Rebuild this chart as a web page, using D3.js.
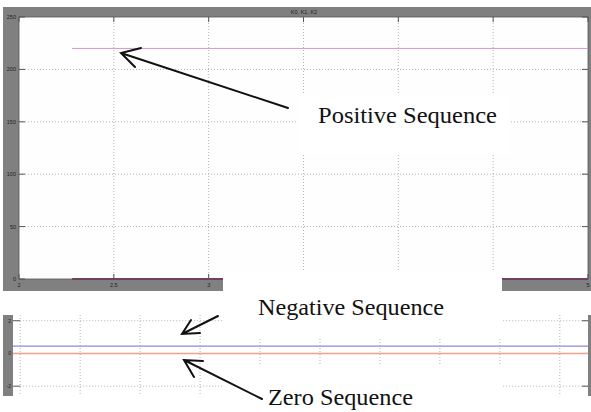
<!DOCTYPE html>
<html><head><meta charset="utf-8">
<script src="https://cdn.jsdelivr.net/npm/d3@7"></script>
<style>body{margin:0;background:#fff}svg{display:block}</style>
</head><body>
<svg id="c" width="591" height="412"></svg>
<script>
// ---- data ----
const title = "K0, K1, K2";
const topXTicks = [2, 2.5, 3, 3.5, 4, 4.5, 5];
const topXTickLabels = ["2", "2.5", "3", "", "", "", "5"];
const topYTicks = [0, 50, 100, 150, 200, 250];
const topTime = [2.28, 5];
const positiveSeq = [220, 220];
const zeroTopSeq = [0, 0];
const botXTicks = [0, 1, 2, 3, 4, 5, 6, 7, 8, 9];
const botYTicks = [-2, 0, 2];
const botTime = [-0.12, 9.47];
const negativeSeq = [0.45, 0.45];
const zeroSeq = [0, 0];
const labels = ["Positive Sequence", "Negative Sequence", "Zero Sequence"];

const svg = d3.select("#c");
const grid = "#b4b4b4";

// ---- top panel ----
const xT = d3.scaleLinear().domain([2, 5]).range([19, 588]);
const yT = d3.scaleLinear().domain([0, 250]).range([279, 17]);
const gTop = svg.append("g");
gTop.append("rect").attr("x", 3).attr("y", 7).attr("width", 588).attr("height", 284).attr("fill", "#808080");
gTop.append("rect").attr("x", 19).attr("y", 17).attr("width", 569).attr("height", 262).attr("fill", "#fefefe");
// grid
gTop.selectAll(".vg").data(topXTicks.slice(1, -1)).enter().append("line")
  .attr("x1", d => xT(d)).attr("x2", d => xT(d)).attr("y1", yT(250)).attr("y2", yT(0))
  .attr("stroke", grid).attr("stroke-dasharray", "1,2");
gTop.selectAll(".hg").data(topYTicks.slice(1, -1)).enter().append("line")
  .attr("x1", xT(2)).attr("x2", xT(5)).attr("y1", d => yT(d)).attr("y2", d => yT(d))
  .attr("stroke", grid).attr("stroke-dasharray", "1,2");
// ticks (inward)
gTop.selectAll(".xt1").data(topXTicks).enter().append("line")
  .attr("x1", d => xT(d)).attr("x2", d => xT(d)).attr("y1", yT(250)).attr("y2", yT(250) + 5)
  .attr("stroke", "#555");
gTop.selectAll(".xt2").data(topXTicks).enter().append("line")
  .attr("x1", d => xT(d)).attr("x2", d => xT(d)).attr("y1", yT(0)).attr("y2", yT(0) - 5)
  .attr("stroke", "#555");
gTop.selectAll(".yt").data(topYTicks).enter().append("line")
  .attr("x1", xT(2)).attr("x2", xT(2) + 6).attr("y1", d => yT(d)).attr("y2", d => yT(d))
  .attr("stroke", "#555");
gTop.selectAll(".yt2").data(topYTicks).enter().append("line")
  .attr("x1", xT(5)).attr("x2", xT(5) - 6).attr("y1", d => yT(d)).attr("y2", d => yT(d))
  .attr("stroke", "#555");
gTop.append("rect").attr("x", 19).attr("y", 17).attr("width", 569).attr("height", 262)
  .attr("fill", "none").attr("stroke", "#555").attr("stroke-width", 0.8);
// labels
gTop.selectAll(".yl").data(topYTicks).enter().append("text")
  .attr("x", 16).attr("y", d => yT(d) + 2).attr("text-anchor", "end")
  .attr("font-family", "Arial, Liberation Sans, sans-serif").attr("font-size", 5.5).attr("fill", "#222")
  .text(d => d);
gTop.selectAll(".xl").data(topXTicks).enter().append("text")
  .attr("x", d => xT(d)).attr("y", 287).attr("text-anchor", "middle")
  .attr("font-family", "Arial, Liberation Sans, sans-serif").attr("font-size", 5.5).attr("fill", "#222")
  .text((d, i) => topXTickLabels[i]);
gTop.append("text").attr("x", 304).attr("y", 13.5).attr("text-anchor", "middle")
  .attr("font-family", "Arial, Liberation Sans, sans-serif").attr("font-size", 5.5).attr("fill", "#222")
  .text(title);
// series
const lineT = d3.line().x((d, i) => xT(topTime[i])).y(d => yT(d));
gTop.append("path").attr("d", lineT(positiveSeq)).attr("fill", "none").attr("stroke", "#d59ad1").attr("stroke-width", 1);
gTop.append("path").attr("d", lineT(zeroTopSeq)).attr("fill", "none").attr("stroke", "#74405f").attr("stroke-width", 2);

// ---- bottom panel ----
const xB = d3.scaleLinear().domain([-0.12, 9.47]).range([13, 588]);
const yB = d3.scaleLinear().domain([-2.6, 2.35]).range([396, 315]);
const gBot = svg.append("g");
gBot.append("rect").attr("x", 3).attr("y", yB(2.35)).attr("width", 10).attr("height", yB(-2.6) - yB(2.35)).attr("fill", "#808080");
gBot.append("rect").attr("x", 588).attr("y", yB(2.35)).attr("width", 3).attr("height", yB(-2.6) - yB(2.35)).attr("fill", "#808080");
gBot.selectAll(".vg").data(botXTicks).enter().append("line")
  .attr("x1", d => xB(d)).attr("x2", d => xB(d)).attr("y1", yB(2.35)).attr("y2", yB(-2.6))
  .attr("stroke", grid).attr("stroke-dasharray", "1,2");
gBot.selectAll(".hg").data(botYTicks.filter(d => d !== 0)).enter().append("line")
  .attr("x1", xB(0)).attr("x2", 588).attr("y1", d => yB(d)).attr("y2", d => yB(d))
  .attr("stroke", grid).attr("stroke-dasharray", "1,2");
gBot.selectAll(".yt").data(botYTicks).enter().append("line")
  .attr("x1", 13).attr("x2", 20).attr("y1", d => yB(d)).attr("y2", d => yB(d)).attr("stroke", "#555");
gBot.selectAll(".yt2").data(botYTicks).enter().append("line")
  .attr("x1", 588).attr("x2", 582).attr("y1", d => yB(d)).attr("y2", d => yB(d)).attr("stroke", "#555");
gBot.selectAll(".yl").data(botYTicks).enter().append("text")
  .attr("x", 11).attr("y", d => yB(d) + 1.8).attr("text-anchor", "end")
  .attr("font-family", "Arial, Liberation Sans, sans-serif").attr("font-size", 5).attr("fill", "#222")
  .text(d => d);
const lineB = d3.line().x((d, i) => xB(botTime[i])).y(d => yB(d));
gBot.append("path").attr("d", lineB(negativeSeq)).attr("fill", "none").attr("stroke", "#8a8ae0").attr("stroke-width", 1.2);
gBot.append("path").attr("d", lineB(zeroSeq)).attr("fill", "none").attr("stroke", "#f2a08e").attr("stroke-width", 1.4);

// ---- white label boxes ----
const boxes = [[298, 95, 212, 60], [223, 272, 279, 67], [223, 364, 279, 48]];
svg.selectAll(".box").data(boxes).enter().append("rect")
  .attr("x", d => d[0]).attr("y", d => d[1]).attr("width", d => d[2]).attr("height", d => d[3]).attr("fill", "#fff");

// ---- annotation text ----
const textPos = [[318, 123], [258, 315], [268, 405]];
const textLen = [179, 186, 145];
svg.selectAll(".lab").data(labels).enter().append("text")
  .attr("x", (d, i) => textPos[i][0]).attr("y", (d, i) => textPos[i][1])
  .attr("font-family", "Liberation Serif, Times New Roman, serif").attr("font-size", 24)
  .attr("textLength", (d, i) => textLen[i]).attr("lengthAdjust", "spacingAndGlyphs")
  .attr("fill", "#111")
  .text(d => d);

// ---- arrows ----
const arrows = [
  {tail: [288, 108], tip: [121, 53], a1: [141, 48], a2: [135, 67]},
  {tail: [218, 316], tip: [182, 334], a1: [191, 320], a2: [200, 333]},
  {tail: [262, 399], tip: [184, 360], a1: [203, 361], a2: [194, 377]}
];
const ag = svg.append("g").attr("stroke", "#111").attr("stroke-width", 2).attr("stroke-linecap", "round").attr("fill", "none");
arrows.forEach(a => {
  ag.append("path").attr("d", `M${a.tail}L${a.tip}M${a.a1}L${a.tip}L${a.a2}`);
});
</script>
</body></html>
